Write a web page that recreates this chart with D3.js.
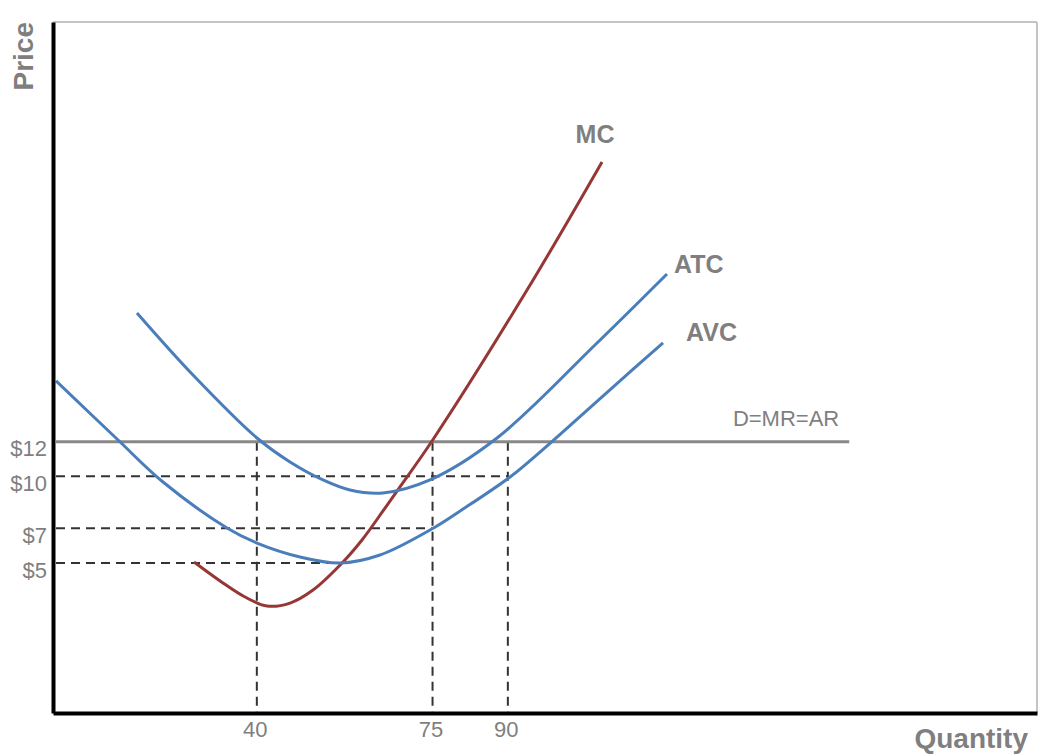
<!DOCTYPE html>
<html>
<head>
<meta charset="utf-8">
<script src="https://cdn.jsdelivr.net/npm/d3@7"></script>
<style>
  html, body { margin: 0; padding: 0; background: #ffffff; }
  svg { display: block; }
  text { font-family: "Liberation Sans", Arial, sans-serif; }
</style>
</head>
<body>
<svg id="chart" width="1052" height="755"></svg>
<script>
// ---- Data (quantity, price) ----
const mcQ  = [27.49, 33.26, 37.64, 42.03, 46.61, 51.19, 56.97, 60.95, 65.13, 67.92, 75.0, 93.82, 108.76];
const mcP  = [5.06, 3.85, 3.04, 2.52, 2.69, 3.44, 5.00, 6.33, 8.00, 9.15, 12.08, 20.74, 28.13];

const atcQ = [16.13, 27.29, 40.03, 46.61, 53.18, 58.56, 65.13, 74.49, 87.84, 107.76, 121.70];
const atcP = [19.42, 15.84, 12.21, 10.83, 9.79, 9.21, 9.04, 9.79, 12.21, 17.69, 21.67];

const avcQ = [0, 12.15, 21.31, 34.06, 40.03, 48.60, 56.57, 64.53, 74.49, 81.07, 90.43, 96.40, 110.95, 120.91];
const avcP = [15.50, 12.15, 9.67, 7.02, 6.15, 5.35, 5.00, 5.46, 6.90, 8.11, 9.96, 11.40, 15.15, 17.69];

const demandPrice = 12;          // D = MR = AR
const demandEndQ  = 158;

const hGuideP = [10, 7, 5];      // horizontal dashed guides (price)
const hGuideQ = [90, 75, 57];    // ... running to this quantity
const vGuideQ = [40, 75, 90];    // vertical dashed guides (quantity)
const vGuideP = [12, 12, 12];    // ... running up to this price

const yTicks = [12, 10, 7, 5];
const xTicks = [40, 75, 90];

const curveNames = ["MC", "ATC", "AVC"];

// ---- Layout ----
const svg = d3.select("#chart");
const padL = 53, padR = 1037, padT = 22, padB = 713;

const x = d3.scaleLinear().domain([-0.6, 195.4]).range([padL, padR]);
const y = d3.scaleLinear().domain([-3.65, 36.2]).range([padB, padT]);

const grey = "#7f7f7f";
const fontFam = '"Liberation Sans", Arial, sans-serif';

// frame (top & right, light)
svg.append("line").attr("x1", padL).attr("x2", padR).attr("y1", padT).attr("y2", padT)
  .attr("stroke", "#c4c4c4").attr("stroke-width", 2);
svg.append("line").attr("x1", padR).attr("x2", padR).attr("y1", padT).attr("y2", padB)
  .attr("stroke", "#c4c4c4").attr("stroke-width", 2);

// dashed guides
const dashStyle = sel => sel.attr("stroke", "#333").attr("stroke-width", 2)
  .attr("stroke-dasharray", "9,6").attr("fill", "none");

hGuideP.forEach((p, i) => {
  svg.append("line")
    .attr("x1", x(0)).attr("x2", x(hGuideQ[i]))
    .attr("y1", y(p)).attr("y2", y(p))
    .call(dashStyle);
});
vGuideQ.forEach((q, i) => {
  svg.append("line")
    .attr("x1", x(q)).attr("x2", x(q))
    .attr("y1", y(vGuideP[i])).attr("y2", y.range()[0])
    .call(dashStyle);
});

// demand line
svg.append("line")
  .attr("x1", x(0)).attr("x2", x(demandEndQ))
  .attr("y1", y(demandPrice)).attr("y2", y(demandPrice))
  .attr("stroke", "#888888").attr("stroke-width", 3);
svg.append("text")
  .attr("x", x(demandEndQ) - 10).attr("y", y(demandPrice) - 16)
  .attr("text-anchor", "end").attr("fill", grey).attr("font-size", 22)
  .text("D=MR=AR");

// curves
const line = d3.line().x(d => x(d[0])).y(d => y(d[1])).curve(d3.curveCatmullRom.alpha(0.5));
const series = [
  { name: curveNames[0], pts: d3.zip(mcQ, mcP),   color: "#953735", dx: -7,  dy: -19, anchor: "middle" },
  { name: curveNames[1], pts: d3.zip(atcQ, atcP), color: "#4a7ebb", dx: 7,   dy: -1,  anchor: "start" },
  { name: curveNames[2], pts: d3.zip(avcQ, avcP), color: "#4a7ebb", dx: 23,  dy: -2,  anchor: "start" }
];
series.forEach(s => {
  svg.append("path").attr("d", line(s.pts))
    .attr("fill", "none").attr("stroke", s.color).attr("stroke-width", 3)
    .attr("stroke-linejoin", "round");
  const end = s.pts[s.pts.length - 1];
  svg.append("text")
    .attr("x", x(end[0]) + s.dx).attr("y", y(end[1]) + s.dy)
    .attr("text-anchor", s.anchor).attr("fill", grey)
    .attr("font-size", 25).attr("font-weight", "bold")
    .text(s.name);
});

// axes
const yAxis = d3.axisLeft(y).tickValues(yTicks).tickSize(0).tickSizeOuter(0)
  .tickPadding(6).tickFormat(d => "$" + d);
const gy = svg.append("g").attr("transform", `translate(${padL},0)`).call(yAxis);
gy.attr("font-size", 22).attr("font-family", fontFam);
gy.select(".domain").attr("stroke", "#000").attr("stroke-width", 4);
gy.selectAll(".tick text").attr("dy", 14).attr("fill", grey);

const xAxis = d3.axisBottom(x).tickValues(xTicks).tickSize(0).tickSizeOuter(0)
  .tickPadding(8);
const gx = svg.append("g").attr("transform", `translate(0,${padB})`).call(xAxis);
gx.attr("font-size", 22).attr("font-family", fontFam);
gx.select(".domain").attr("stroke", "#000").attr("stroke-width", 4);
gx.selectAll(".tick text").attr("fill", grey).attr("dx", -2);

// axis titles
svg.append("text")
  .attr("transform", `translate(33,${padT}) rotate(-90)`)
  .attr("text-anchor", "end").attr("fill", grey)
  .attr("font-size", 28).attr("font-weight", "bold")
  .text("Price");
svg.append("text")
  .attr("x", 1028).attr("y", 748)
  .attr("text-anchor", "end").attr("fill", grey)
  .attr("font-size", 28).attr("font-weight", "bold")
  .text("Quantity");
</script>
</body>
</html>
